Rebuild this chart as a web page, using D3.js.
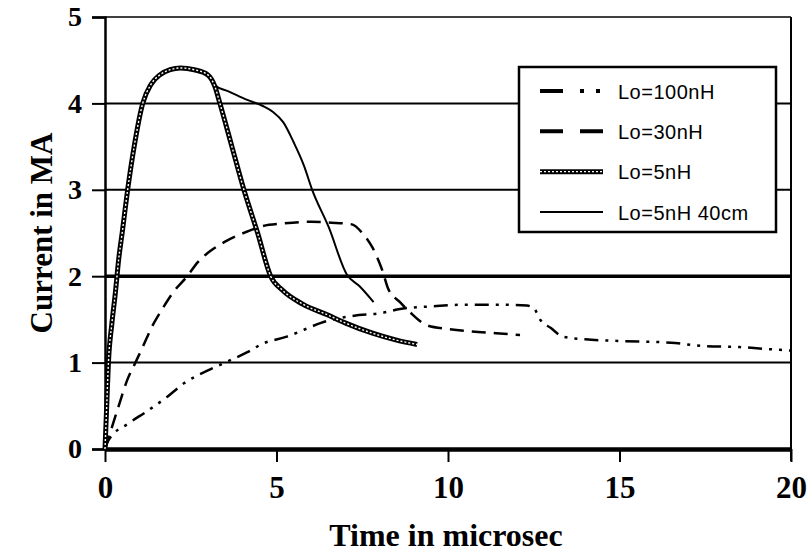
<!DOCTYPE html>
<html>
<head>
<meta charset="utf-8">
<script src="https://cdn.jsdelivr.net/npm/d3@7"></script>
<style>
  body { margin: 0; background: #fff; }
  svg { display: block; }
</style>
</head>
<body>
<div id="graph"></div>
<script>
// chart size and plot edges (pixels)
var w = 809;
var h = 552;
var plotLeft = 105, plotRight = 791, plotTop = 17, plotBottom = 449;

// series: [time in microsec, current in MA]
var lo100nH = [[0,0],[0.1,0.1],[0.7,0.3],[1.2,0.43],[1.8,0.6],[2.3,0.76],[3.0,0.91],
  [3.5,1.0],[4.15,1.12],[4.6,1.22],[5.3,1.3],[5.8,1.38],[6.3,1.46],[7.4,1.55],
  [8.0,1.57],[8.6,1.62],[9.5,1.65],[10.5,1.67],[11.5,1.67],[12.3,1.66],[12.5,1.63],
  [12.7,1.49],[13.0,1.4],[13.35,1.3],[14.0,1.27],[15.0,1.25],[16.5,1.23],[17.5,1.19],
  [18.5,1.18],[19.2,1.16],[20,1.14]];

var lo30nH = [[0,0],[0.2,0.25],[0.4,0.5],[0.65,0.8],[0.85,0.97],[1.1,1.18],[1.35,1.4],
  [1.7,1.64],[2.0,1.82],[2.4,2.0],[2.7,2.16],[3.1,2.3],[3.5,2.4],[4.1,2.51],[4.6,2.58],
  [5.2,2.61],[6.0,2.63],[6.6,2.62],[7.2,2.6],[7.5,2.5],[7.8,2.33],[8.1,2.05],[8.25,1.86],
  [8.6,1.7],[8.9,1.58],[9.4,1.43],[10.0,1.39],[10.7,1.36],[11.4,1.34],[12.1,1.32]];

var lo5nH = [[0,0],[0.05,0.5],[0.1,1.0],[0.2,1.45],[0.3,1.8],[0.4,2.2],[0.5,2.5],
  [0.66,3.0],[0.85,3.5],[1.1,4.0],[1.34,4.22],[1.6,4.33],[1.9,4.39],[2.2,4.41],
  [2.6,4.39],[3.0,4.33],[3.2,4.2],[3.35,4.0],[3.7,3.5],[4.05,3.0],[4.45,2.5],[4.83,2.0],
  [5.17,1.84],[5.75,1.68],[6.5,1.55],[7.0,1.46],[7.8,1.34],[8.5,1.26],[9.1,1.21]];

var lo5nH40cm = [[0,0],[0.05,0.5],[0.1,1.0],[0.2,1.45],[0.3,1.8],[0.4,2.2],[0.5,2.5],
  [0.66,3.0],[0.85,3.5],[1.1,4.0],[1.34,4.22],[1.6,4.33],[1.9,4.39],[2.2,4.41],
  [2.6,4.39],[3.0,4.33],[3.2,4.21],[3.6,4.14],[4.15,4.04],[4.6,3.97],[4.9,3.9],
  [5.2,3.78],[5.5,3.55],[5.8,3.28],[6.04,3.0],[6.52,2.57],[7.05,2.02],[7.43,1.88],[7.83,1.7]];

var seriesNames = ["Lo=100nH", "Lo=30nH", "Lo=5nH", "Lo=5nH 40cm"];
var xTicks = [0, 5, 10, 15, 20];
var yTicks = [0, 1, 2, 3, 4, 5];

var xScale = d3.scaleLinear().domain([0, 20]).range([plotLeft, plotRight]);
var yScale = d3.scaleLinear().domain([0, 5]).range([plotBottom, plotTop]);

var svg = d3.select("#graph")
            .append("svg")
            .attr("width", w)
            .attr("height", h);

// horizontal grid lines, the 2 line is heavier in the scan
svg.selectAll("line.grid")
    .data(yTicks.filter(function(d){ return d > 0; }))
    .enter()
    .append("line")
    .attr("class", "grid")
    .attr("x1", plotLeft)
    .attr("x2", plotRight)
    .attr("y1", function(d){ return yScale(d); })
    .attr("y2", function(d){ return yScale(d); })
    .attr("stroke", "#000")
    .attr("stroke-width", function(d){ return d == 2 ? 3.5 : (d == 5 ? 1.5 : 2); });

// right edge of plot
svg.append("line")
    .attr("x1", plotRight).attr("x2", plotRight)
    .attr("y1", plotTop).attr("y2", plotBottom + 12)
    .attr("stroke", "#000").attr("stroke-width", 2);

// y axis
var yAxis = d3.axisLeft(yScale).tickValues(yTicks).tickFormat(d3.format("d"))
    .tickSize(13).tickPadding(10);
var gy = svg.append("g").attr("transform", "translate(" + plotLeft + ",0)").call(yAxis);
gy.select(".domain").attr("stroke-width", 2.5);
gy.selectAll(".tick line").attr("stroke-width", 2);
gy.selectAll("text")
    .attr("font-family", "'Liberation Serif', 'Times New Roman', serif")
    .attr("font-weight", "bold")
    .attr("font-size", "28px")
    .attr("fill", "#000");

// x axis
var xAxis = d3.axisBottom(xScale).tickValues(xTicks).tickFormat(d3.format("d"))
    .tickSize(13).tickPadding(14).tickSizeOuter(0);
var gx = svg.append("g").attr("transform", "translate(0," + plotBottom + ")").call(xAxis);
gx.select(".domain").attr("stroke-width", 4.5);
gx.selectAll(".tick line").attr("stroke-width", 2);
gx.selectAll("text")
    .attr("font-family", "'Liberation Serif', 'Times New Roman', serif")
    .attr("font-weight", "bold")
    .attr("font-size", "31px")
    .attr("fill", "#000");

// axis titles
svg.append("text")
    .text("Time in microsec")
    .attr("x", (plotLeft + plotRight) / 2 - 2)
    .attr("y", 546)
    .attr("text-anchor", "middle")
    .attr("font-family", "'Liberation Serif', 'Times New Roman', serif")
    .attr("font-weight", "bold")
    .attr("font-size", "32px");

svg.append("text")
    .text("Current in MA")
    .attr("transform", "translate(52,233) rotate(-90)")
    .attr("text-anchor", "middle")
    .attr("font-family", "'Liberation Serif', 'Times New Roman', serif")
    .attr("font-weight", "bold")
    .attr("font-size", "31px");

var line = d3.line()
    .x(function(d){ return xScale(d[0]); })
    .y(function(d){ return yScale(d[1]); })
    .curve(d3.curveMonotoneX);

// 100nH: dash dot dot
svg.append("path")
    .attr("d", line(lo100nH))
    .attr("fill", "none").attr("stroke", "#000")
    .attr("stroke-width", 2.5)
    .attr("stroke-dasharray", "14,7,3,7,3,7");

// 30nH: dashes
svg.append("path")
    .attr("d", line(lo30nH))
    .attr("fill", "none").attr("stroke", "#000")
    .attr("stroke-width", 2.5)
    .attr("stroke-dasharray", "14,8");

// 5nH 40cm: thin solid
svg.append("path")
    .attr("d", line(lo5nH40cm))
    .attr("fill", "none").attr("stroke", "#000")
    .attr("stroke-width", 2);

// 5nH: hatched thick line (black with small white holes)
svg.append("path")
    .attr("d", line(lo5nH))
    .attr("fill", "none").attr("stroke", "#000")
    .attr("stroke-width", 5);
svg.append("path")
    .attr("d", line(lo5nH))
    .attr("fill", "none").attr("stroke", "#fff")
    .attr("stroke-width", 1.4)
    .attr("stroke-dasharray", "2,2");

// legend
var legend = svg.append("g");
legend.append("rect")
    .attr("x", 519).attr("y", 67)
    .attr("width", 257).attr("height", 165)
    .attr("fill", "#fff").attr("stroke", "#000").attr("stroke-width", 2.5);

var legendY = d3.scalePoint().domain(seriesNames).range([91, 212]);
var sampleStyles = [
  { width: 4, dash: "23,17,4,12,4,12" },
  { width: 4, dash: "23,17" },
  { width: 5, dash: null, hatch: true },
  { width: 2, dash: null }
];

seriesNames.forEach(function(name, i){
  var y = legendY(name);
  var s = sampleStyles[i];
  legend.append("line")
      .attr("x1", 540).attr("x2", 603)
      .attr("y1", y).attr("y2", y)
      .attr("stroke", "#000")
      .attr("stroke-width", s.width)
      .attr("stroke-dasharray", s.dash);
  if (s.hatch) {
    legend.append("line")
        .attr("x1", 540).attr("x2", 603)
        .attr("y1", y).attr("y2", y)
        .attr("stroke", "#fff")
        .attr("stroke-width", 1.4)
        .attr("stroke-dasharray", "2,2");
  }
  legend.append("text")
      .text(name)
      .attr("x", 618)
      .attr("y", y + 7.5)
      .attr("font-family", "'Liberation Sans', Arial, sans-serif")
      .attr("font-size", "20px")
      .attr("letter-spacing", "0.5px")
      .attr("fill", "#000");
});
</script>
</body>
</html>
